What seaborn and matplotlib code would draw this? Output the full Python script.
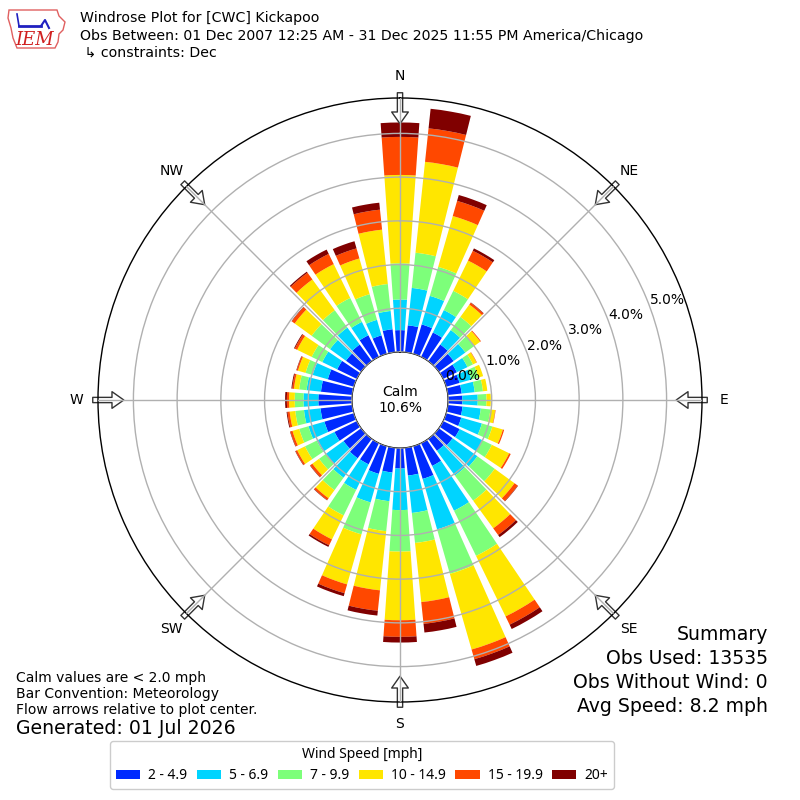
import numpy as np
import matplotlib
matplotlib.use("Agg")
import matplotlib.pyplot as plt
import seaborn as sns
from matplotlib.patches import Polygon

plt.rcParams['font.family'] = ['DejaVu Sans']

# wind direction bins (degrees, meteorological convention)
directions = np.arange(0, 360, 10)

speed_labels = ['2 - 4.9', '5 - 6.9', '7 - 9.9', '10 - 14.9', '15 - 19.9', '20+']

# percent of observations per direction bin, one list per speed class
spd_2_5 = [0.50, 0.62, 0.70, 0.62, 0.47, 0.42, 0.35, 0.32, 0.32, 0.33, 0.34, 0.36,
           0.42, 0.39, 0.34, 0.58, 0.78, 0.64, 0.47, 0.57, 0.66, 0.54, 0.55, 0.50,
           0.57, 0.70, 0.73, 0.77, 0.72, 0.62, 0.50, 0.43, 0.47, 0.55, 0.44, 0.53]
spd_5_7 = [0.70, 0.86, 0.68, 0.57, 0.41, 0.33, 0.27, 0.28, 0.30, 0.35, 0.42, 0.49,
           0.58, 0.70, 0.70, 1.14, 1.20, 0.86, 0.95, 0.66, 0.68, 0.65, 0.55, 0.50,
           0.45, 0.38, 0.38, 0.34, 0.33, 0.36, 0.38, 0.45, 0.48, 0.34, 0.37, 0.42]
spd_7_10 = [0.83, 0.81, 0.69, 0.49, 0.37, 0.25, 0.14, 0.17, 0.19, 0.20, 0.22, 0.25,
            0.24, 0.49, 0.71, 1.15, 1.06, 0.69, 0.95, 0.69, 0.76, 0.65, 0.35, 0.19,
            0.30, 0.22, 0.20, 0.20, 0.17, 0.17, 0.27, 0.52, 0.49, 0.61, 0.61, 0.62]
spd_10_15 = [2.02, 2.09, 1.21, 0.77, 0.35, 0.17, 0.09, 0.11, 0.10, 0.10, 0.11, 0.25,
             0.44, 0.56, 0.78, 1.54, 1.80, 1.36, 1.57, 1.36, 1.19, 0.61, 0.23, 0.19,
             0.20, 0.16, 0.13, 0.13, 0.12, 0.18, 0.37, 0.48, 0.87, 0.86, 0.85, 1.25]
spd_15_20 = [0.87, 0.77, 0.36, 0.25, 0.05, 0.02, 0.01, 0.00, 0.00, 0.00, 0.01, 0.03,
             0.04, 0.09, 0.19, 0.21, 0.23, 0.50, 0.38, 0.47, 0.21, 0.15, 0.05, 0.06,
             0.04, 0.05, 0.05, 0.05, 0.04, 0.03, 0.06, 0.08, 0.19, 0.26, 0.24, 0.46]
spd_20_up = [0.33, 0.45, 0.14, 0.06, 0.01, 0.00, 0.00, 0.00, 0.00, 0.00, 0.00, 0.00,
             0.00, 0.01, 0.06, 0.11, 0.16, 0.20, 0.13, 0.11, 0.07, 0.04, 0.01, 0.01,
             0.01, 0.01, 0.02, 0.04, 0.02, 0.01, 0.02, 0.01, 0.03, 0.11, 0.17, 0.16]

calm_pct = 10.6
ring_values = [0, 1, 2, 3, 4, 5]
compass_labels = ['N', 'NE', 'E', 'SE', 'S', 'SW', 'W', 'NW']

series = [spd_2_5, spd_5_7, spd_7_10, spd_10_15, spd_15_20, spd_20_up]
colors = sns.color_palette(['#002aff', '#00d4ff', '#7dff7a', '#ffe600', '#ff4800', '#800000'])

fig = plt.figure(figsize=(8, 8), dpi=100)
ax = fig.add_axes([0.1225, 0.1225, 0.755, 0.755], projection='polar')
ax.set_theta_zero_location('N')
ax.set_theta_direction(-1)
ax.set_rorigin(-1.098)
ax.set_ylim(0, 5.81)

# stacked bars per speed class
theta = np.deg2rad(directions)
bottom = np.zeros(len(directions))
handles = []
for vals, lab, col in zip(series, speed_labels, colors):
    vals = np.asarray(vals)
    bars = ax.bar(theta, vals, width=np.deg2rad(8), bottom=bottom,
                  color=col, linewidth=0, label=lab, zorder=1)
    handles.append(bars)
    bottom = bottom + vals

ax.set_rgrids(ring_values, labels=[f"{v:.1f}%" for v in ring_values], angle=69.5)
ax.set_thetagrids(np.arange(0, 360, 45), labels=compass_labels)
ax.grid(True, color='#b0b0b0', linewidth=1)
ax.set_axisbelow(False)
ax.tick_params(axis='x', pad=5, labelsize=10)
ax.tick_params(axis='y', labelsize=10)
ax.spines['polar'].set_linewidth(1)

# hollow flow arrows around the rim (drawn under grid and rim)
for t in np.arange(0, 360, 45):
    ax.annotate('', xy=(np.deg2rad(t), 5.22), xytext=(np.deg2rad(t), 5.93),
                arrowprops=dict(arrowstyle='simple,head_length=0.85,head_width=1.2,tail_width=0.38',
                                fc='white', ec='#333333', lw=1, shrinkA=0, shrinkB=0),
                annotation_clip=False, zorder=2)

fig.text(0.5, 0.5, f"Calm\n{calm_pct}%", ha='center', va='center', fontsize=10)

# header
fig.text(80 / 800, 1 - 18 / 800, "Windrose Plot for [CWC] Kickapoo", fontsize=10.2, va='center')
fig.text(80 / 800, 1 - 36 / 800,
         "Obs Between: 01 Dec 2007 12:25 AM - 31 Dec 2025 11:55 PM America/Chicago",
         fontsize=10.2, va='center')
fig.text(80 / 800, 1 - 53 / 800, " \u21b3 constraints: Dec", fontsize=10.2, va='center')

# IEM logo (rough)
lax = fig.add_axes([5 / 800, 1 - 52 / 800, 62 / 800, 46 / 800])
lax.set_xlim(0, 62)
lax.set_ylim(46, 0)
lax.axis('off')
lax.add_patch(Polygon([(4, 4), (52, 4), (54, 10), (60, 16), (58, 24), (54, 28), (53, 36),
                       (50, 42), (12, 42), (8, 32), (6, 22), (3, 12)],
                      closed=True, fill=False, ec='#e06060', lw=1))
lax.plot([14, 36], [20, 20], color='#2020c0', lw=2)
lax.plot([14, 12], [20, 8], color='#2020c0', lw=1.2)
lax.plot([36, 40, 44], [20, 14, 22], color='#2020c0', lw=1.5)
lax.text(30, 34, "IEM", color='#d02020', fontsize=13, fontstyle='italic',
         family='DejaVu Serif', ha='center', va='center')

# footer notes
fig.text(16 / 800, 1 - 678 / 800, "Calm values are < 2.0 mph", fontsize=10, va='center')
fig.text(16 / 800, 1 - 694 / 800, "Bar Convention: Meteorology", fontsize=10, va='center')
fig.text(16 / 800, 1 - 710 / 800, "Flow arrows relative to plot center.", fontsize=10, va='center')
fig.text(16 / 800, 1 - 729 / 800, "Generated: 01 Jul 2026", fontsize=13.6, va='center')

summary = ["Summary", "Obs Used: 13535", "Obs Without Wind: 0", "Avg Speed: 8.2 mph"]
for i, line in enumerate(summary):
    fig.text(768 / 800, 1 - (635 + 23.7 * i) / 800, line, fontsize=13.6, ha='right', va='center')

leg = fig.legend(handles, speed_labels, loc='lower center', bbox_to_anchor=(362 / 800, 11 / 800),
                 ncol=6, title='Wind Speed [mph]', borderaxespad=0,
                 prop={'family': 'Noto Sans', 'size': 10},
                 handlelength=1.73, handleheight=0.6, handletextpad=0.58, columnspacing=0.7,
                 framealpha=1)
leg.get_title().set_fontfamily('Noto Sans')
leg.get_title().set_fontsize(10)

fig.savefig('out.png', dpi=100)
